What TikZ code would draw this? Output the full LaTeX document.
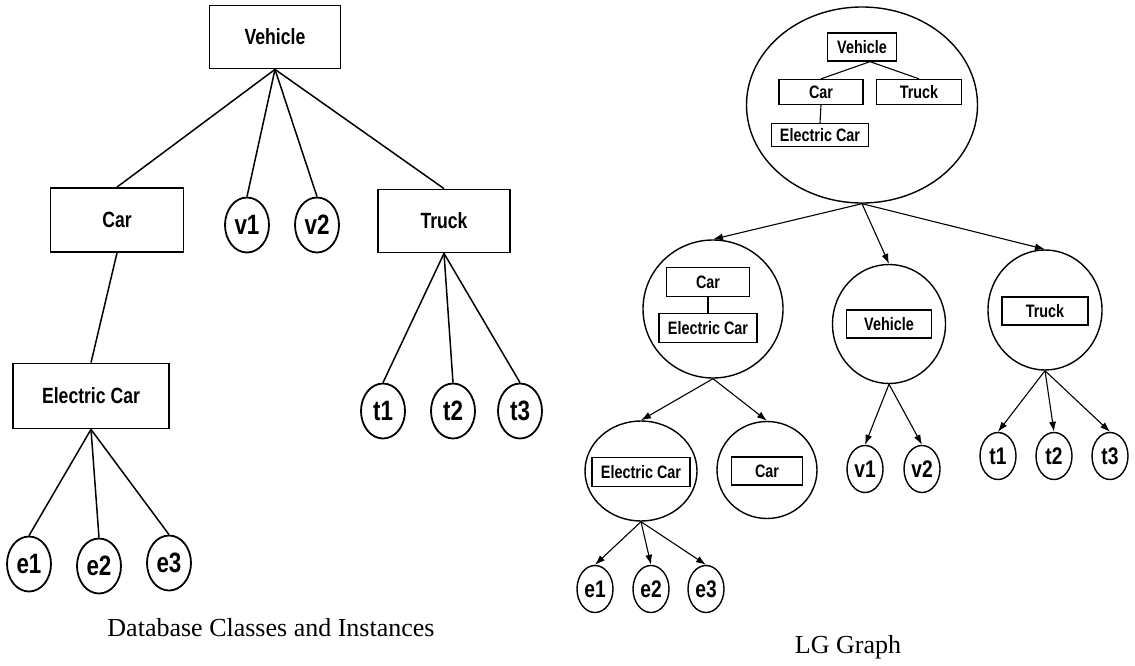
\documentclass[tikz,border=0pt]{standalone}
\usepackage{fontspec}
\setmainfont{Liberation Serif}
\newfontfamily\labfont[FakeStretch=0.8]{Liberation Sans}
\usetikzlibrary{shapes.geometric,arrows.meta}

\tikzset{
  cls/.style={draw, line width=1.8pt, inner sep=0pt, font=\labfont\bfseries\fontsize{22}{24}\selectfont},
  inst/.style={draw, ellipse, line width=1.8pt, inner sep=0pt, minimum width=44pt, minimum height=55pt,
    font=\labfont\bfseries\fontsize{28}{30}\selectfont},
  link/.style={line width=1.5pt},
  group/.style={draw, ellipse, line width=1.4pt, inner sep=0pt},
  minicls/.style={draw, line width=1.3pt, inner sep=0pt, minimum height=28pt, font=\labfont\bfseries\fontsize{18}{20}\selectfont},
  miniinst/.style={draw, ellipse, line width=1.4pt, inner sep=0pt, minimum width=36pt, minimum height=47pt,
    font=\labfont\bfseries\fontsize{24}{26}\selectfont},
  arr/.style={-{Latex[length=10pt,width=7pt]}, line width=1.1pt},
  caption/.style={font=\fontsize{26}{28}\selectfont}
}

\begin{document}
\begin{tikzpicture}[x=1pt,y=-1pt]
  \useasboundingbox (0,0) rectangle (1135,666);

  % Database classes and instances
  \node[cls, minimum width=131pt, minimum height=63pt] (veh) at (275,37) {Vehicle};
  \node[cls, minimum width=133pt, minimum height=64pt] (car) at (117,220) {Car};
  \node[cls, minimum width=132pt, minimum height=63pt] (truck) at (444,221) {Truck};
  \node[cls, minimum width=156pt, minimum height=65pt] (ecar) at (91,396) {Electric Car};
  \node[inst] (v1) at (247,225) {v1};
  \node[inst] (v2) at (317,225) {v2};
  \node[inst] (e1) at (29,564) {e1};
  \node[inst] (e2) at (99,566) {e2};
  \node[inst] (e3) at (169,563) {e3};
  \node[inst] (t1) at (383,411) {t1};
  \node[inst] (t2) at (453,411) {t2};
  \node[inst] (t3) at (520,411) {t3};

  \draw[link] (veh.south) -- (car.north);
  \draw[link] (veh.south) -- (v1.north);
  \draw[link] (veh.south) -- (v2.north);
  \draw[link] (veh.south) -- (truck.north);
  \draw[link] (car.south) -- (ecar.north);
  \foreach \i in {1,2,3} {
    \draw[link] (ecar.south) -- (e\i.north);
    \draw[link] (truck.south) -- (t\i.north);
  }

  \node[caption] (capA) at (271,628) {Database Classes and Instances};

  % LG graph: top node holds the whole hierarchy
  \node[group, minimum width=231pt, minimum height=196pt] (top) at (862,105) {};
  \node[minicls, minimum width=69pt] (vehA) at (862,47) {Vehicle};
  \node[minicls, minimum width=84pt, minimum height=25pt] (carA) at (821,92) {Car};
  \node[minicls, minimum width=85pt, minimum height=25pt] (truckA) at (919,92) {Truck};
  \node[minicls, minimum width=97pt, minimum height=23pt] (ecarA) at (820,135) {Electric Car};
  \draw[line width=1.1pt] ([xshift=8pt]vehA.south) -- (carA.north);
  \draw[line width=1.1pt] ([xshift=8pt]vehA.south) -- (truckA.north);
  \draw[line width=1.1pt] (carA.south) -- (ecarA.north);

  % second level
  \node[group, minimum width=140pt, minimum height=138pt] (lc) at (713,309) {};
  \node[minicls, minimum width=83pt, minimum height=29pt] (carB) at (708,282) {Car};
  \node[minicls, minimum width=98pt, minimum height=29pt] (ecarB) at (708,328) {Electric Car};
  \draw[line width=1.1pt] (carB.south) -- (ecarB.north);
  \node[group, minimum width=113pt, minimum height=119pt] (mc) at (889,324) {};
  \node[minicls, minimum width=85pt] (vehB) at (889,324) {Vehicle};
  \node[group, minimum width=114pt, minimum height=120pt] (rc) at (1045,310) {};
  \node[minicls, minimum width=86pt] (truckB) at (1045,311) {Truck};

  \draw[arr] (top.south) -- (lc.north);
  \draw[arr] (top.south) -- (mc.north);
  \draw[arr] (top.south) -- (rc.north);

  % third level
  \node[group, minimum width=112pt, minimum height=100pt] (ecc) at (641,471) {};
  \node[minicls, minimum width=98pt, minimum height=29pt] (ecarC) at (641,472) {Electric Car};
  \node[group, minimum width=100pt, minimum height=97pt] (cc) at (767,470) {};
  \node[minicls, minimum width=71pt] (carC) at (767,471) {Car};
  \draw[arr] (lc.south) -- (ecc.north);
  \draw[arr] (lc.south) -- (cc.north);

  \node[miniinst] (v1R) at (865,469) {v1};
  \node[miniinst] (v2R) at (922,469) {v2};
  \draw[arr] (mc.south) -- (v1R.north);
  \draw[arr] (mc.south) -- (v2R.north);

  \node[miniinst] (t1R) at (998,456) {t1};
  \node[miniinst] (t2R) at (1054,456) {t2};
  \node[miniinst] (t3R) at (1110,456) {t3};
  \node[miniinst] (e1R) at (595,589) {e1};
  \node[miniinst] (e2R) at (651,589) {e2};
  \node[miniinst] (e3R) at (706,589) {e3};
  \foreach \i in {1,2,3} {
    \draw[arr] (rc.south) -- (t\i R.north);
    \draw[arr] (ecc.south) -- (e\i R.north);
  }

  \node[caption] (capB) at (848,647) {LG Graph};
\end{tikzpicture}
\end{document}
